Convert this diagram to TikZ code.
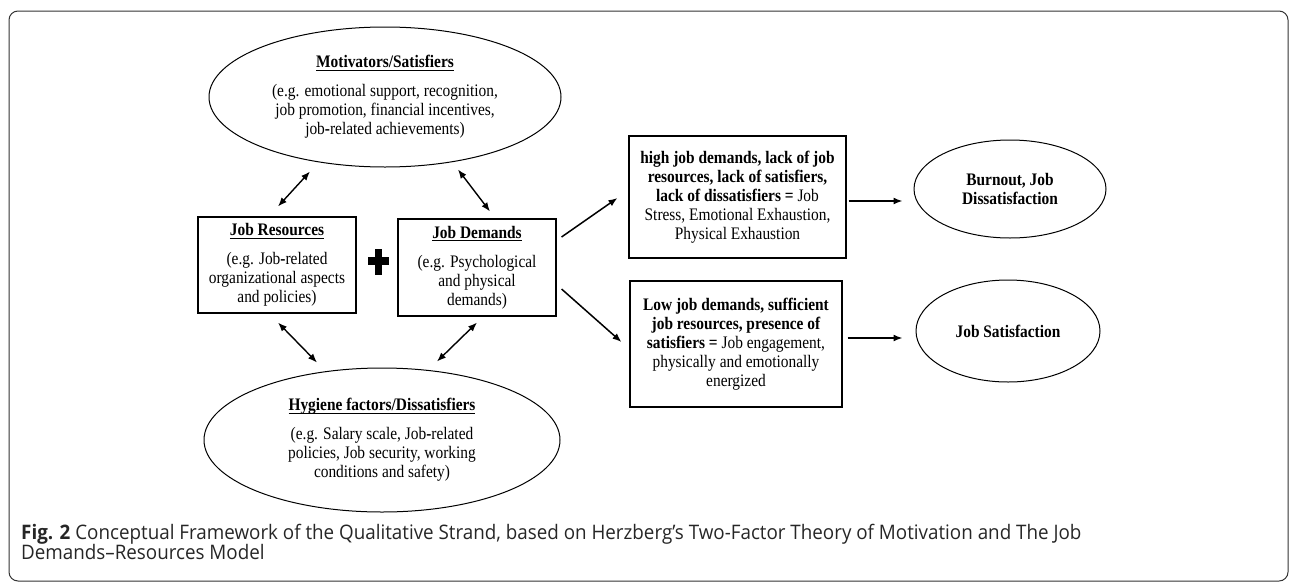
\documentclass[tikz,border=0pt]{standalone}
\usepackage{amsmath}
\usepackage{fontspec}
\setmainfont{Liberation Serif}[FakeStretch=0.875]
\newfontfamily\capfont{Open Sans}[FakeStretch=0.94]
\usetikzlibrary{shapes.geometric, arrows.meta}
\newcommand{\hdr}[1]{\underline{\smash[b]{\textbf{#1}}}}

\begin{document}
\begin{tikzpicture}[x=1pt, y=-1pt,
  every node/.style={font=\fontsize{17.6}{19}\selectfont, align=center, inner sep=0pt},
  ell/.style={ellipse, draw, line width=1pt},
  box/.style={rectangle, draw, line width=1.1pt},
  oneway/.style={-{Latex[length=9pt,width=7pt]}, line width=1.5pt},
  twoway/.style={{Latex[length=9pt,width=7pt]}-{Latex[length=9pt,width=7pt]}, line width=1.4pt}]
  \useasboundingbox (0,0) rectangle (1290,584);
  \draw[black!80, line width=1pt, rounded corners=9pt] (9,11) rectangle (1288,581);

  % 左侧：双因素 + 资源/需求
  \node[ell, minimum width=352, minimum height=140] (motiv) at (385,97)
    {\hdr{Motivators/Satisfiers}\\[10pt]
     (e.g. emotional support, recognition,\\ job promotion, financial incentives,\\ job\textbf{-}related achievements)};
  \node[box, minimum width=158, minimum height=96] (jres) at (277,265)
    {\hdr{Job Resources}\\[10pt] (e.g. Job\textbf{-}related\\ organizational aspects\\ and policies)};
  \node[box, minimum width=158, minimum height=97] (jdem) at (477,267.5)
    {\hdr{Job Demands}\\[10pt] (e.g. Psychological\\ and physical\\ demands)};
  \node[ell, minimum width=356, minimum height=144] (hyg) at (382,440)
    {\hdr{Hygiene factors/Dissatisfiers}\\[10pt]
     (e.g. Salary scale, Job\textbf{-}related\\ policies, Job security, working\\ conditions and safety)};

  \fill (368,257) rectangle (389,265);
  \fill (375,249) rectangle (382,275);

  % 右侧：结果
  \node[box, minimum width=217, minimum height=122] (high) at (737.5,197)
    {\textbf{high job demands, lack of job}\\ \textbf{resources, lack of satisfiers,}\\
     \textbf{lack of dissatisfiers =} Job\\ Stress, Emotional Exhaustion,\\ Physical Exhaustion};
  \node[box, minimum width=212, minimum height=126] (low) at (736,344)
    {\textbf{Low job demands, sufficient}\\ \textbf{job resources, presence of}\\
     \textbf{satisfiers =} Job engagement,\\ physically and emotionally\\ energized};
  \node[ell, minimum width=192, minimum height=98] (burn) at (1010,189)
    {\textbf{Burnout, Job}\\ \textbf{Dissatisfaction}};
  \node[ell, minimum width=184, minimum height=102] (jsat) at (1008,331)
    {\textbf{Job Satisfaction}};

  \draw[twoway] ([shift={(1,-10)}]jres.north) -- ([shift={(-75,4)}]motiv.south);
  \draw[twoway] ([shift={(13,-7)}]jdem.north) -- ([shift={(73,2)}]motiv.south);
  \draw[twoway] ([shift={(1,9)}]jres.south) -- ([shift={(-65,-5)}]hyg.north);
  \draw[twoway] ([shift={(0,6)}]jdem.south) -- ([shift={(55,-6)}]hyg.north);
  \draw[oneway] ([shift={(5,-30.5)}]jdem.east) -- ([shift={(-11,1)}]high.west);
  \draw[oneway] ([shift={(5,21.5)}]jdem.east) -- ([shift={(-8,-2)}]low.west);
  \draw[oneway] ([shift={(2,4)}]high.east) -- ([shift={(-11,12)}]burn.west);
  \draw[oneway] ([shift={(5,-6)}]low.east) -- ([shift={(-13,7)}]jsat.west);

  \node[anchor=base west, font=\capfont\fontsize{20}{20}\selectfont, text=black!85] (cap1) at (21,539)
    {\textbf{Fig. 2} Conceptual Framework of the Qualitative Strand, based on Herzberg’s Two-Factor Theory of Motivation and The Job};
  \node[anchor=base west, font=\capfont\fontsize{20}{20}\selectfont, text=black!85] (cap2) at (21,559)
    {Demands–Resources Model};
\end{tikzpicture}
\end{document}
